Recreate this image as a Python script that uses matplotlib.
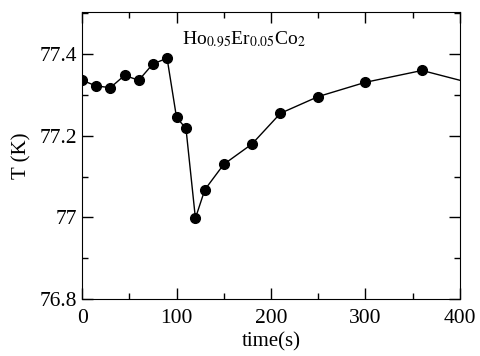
import matplotlib
matplotlib.use("Agg")
import matplotlib.pyplot as plt
from matplotlib.ticker import MultipleLocator

# measured points (time in s, temperature in K)
time_s = [0, 15, 30, 45, 60, 75, 90, 100, 110, 120, 130, 150, 180, 210, 250, 300, 360]
temp_k = [77.336, 77.322, 77.318, 77.348, 77.336, 77.376, 77.39, 77.245, 77.218,
          76.998, 77.068, 77.13, 77.18, 77.255, 77.296, 77.331, 77.36]
# line continues past the last marker to the edge
tail_time = [360, 400]
tail_temp = [77.36, 77.336]

x_ticks = [0, 100, 200, 300, 400]
y_ticks = [76.8, 77.0, 77.2, 77.4]
y_tick_labels = ["76.8", "77", "77.2", "77.4"]

plt.rcParams["font.family"] = "Liberation Serif"
plt.rcParams["mathtext.fontset"] = "stix"

fig = plt.figure(figsize=(4.8, 3.56), dpi=100)
ax = fig.add_axes([0.171, 0.16, 0.787, 0.806])

ax.plot(time_s, temp_k, "k-", lw=1.0, marker="o", ms=7, mfc="black", mec="black")
ax.plot(tail_time, tail_temp, "k-", lw=1.0)

ax.set_xlim(0, 400)
ax.set_ylim(76.8, 77.503)
ax.set_xticks(x_ticks)
ax.set_yticks(y_ticks)
ax.set_yticklabels(y_tick_labels)
ax.xaxis.set_minor_locator(MultipleLocator(50))
ax.yaxis.set_minor_locator(MultipleLocator(0.1))
ax.tick_params(which="both", direction="in", top=True, right=True, labelsize=15.5)
ax.tick_params(which="major", length=8, width=1)
ax.tick_params(which="minor", length=4, width=1)
ax.tick_params(axis="x", pad=7)

ax.set_xlabel("time(s)", fontsize=15, labelpad=3)
ax.set_ylabel("T (K)", fontsize=15, labelpad=6)

ax.text(106, 77.423, "Ho$_{0.95}$Er$_{0.05}$Co$_2$", fontsize=14,
        ha="left", va="baseline")

fig.savefig("out.png", dpi=100)
